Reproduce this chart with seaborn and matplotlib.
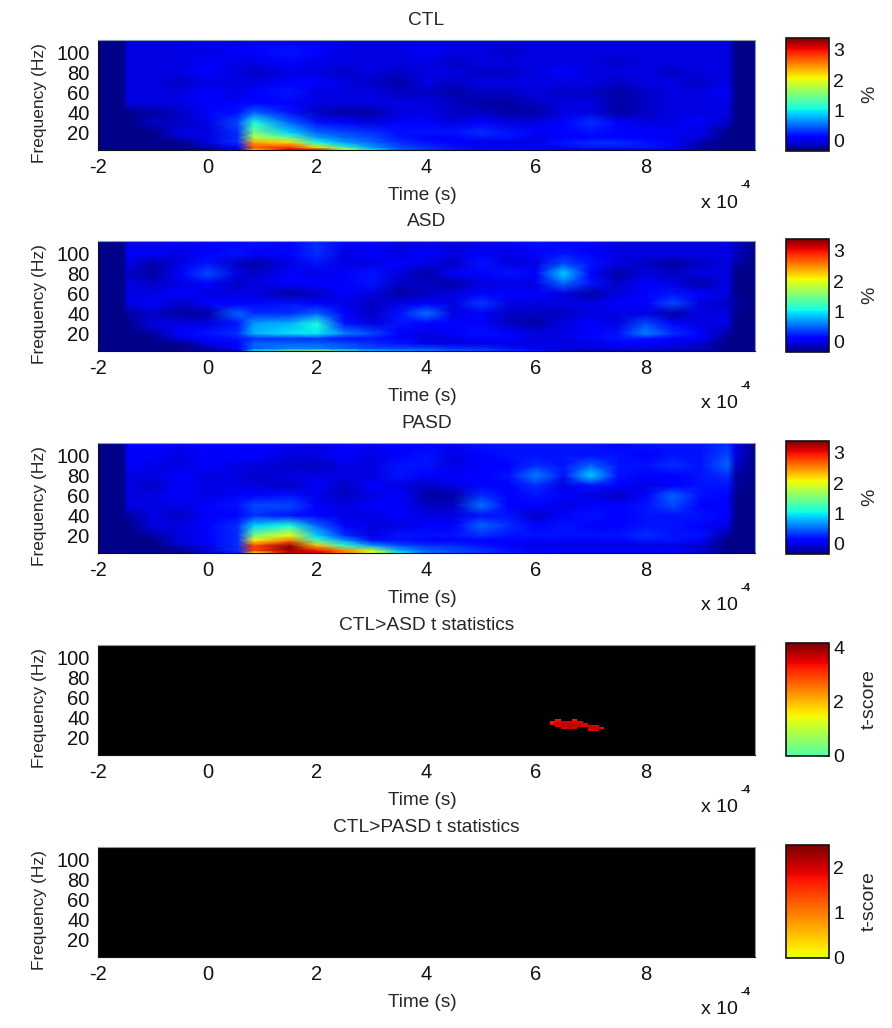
import numpy as np
import matplotlib
matplotlib.use('Agg')
from matplotlib import pyplot as plt
from matplotlib.colors import LinearSegmentedColormap
import seaborn as sns

# grid of the three power panels, finer where the picture has sharp edges
times = [-2, -1.55, -1.45, -1, -0.5, 0, 0.55, 0.85, 1.5, 2, 2.5, 3, 3.5, 4, 4.5, 5, 5.5, 6, 6.5, 7, 7.5, 8, 8.5, 9, 9.5, 9.65, 10]
freqs = [2.5, 5, 10, 15, 20, 30, 40, 50, 60, 70, 80, 90, 100, 112.5]

time_ticks = [-2, 0, 2, 4, 6, 8]
freq_ticks = [20, 40, 60, 80, 100]

# rows go from low to high frequency
ctl = [
    [-.3, -.3, -.3, -.3, -.3, -.2, -.1, 2.3, 3.1, 3.3, 2.1, 1.0, .5, .3, .2, .1, .1, .1, .0, .0, .0, .0, -.1, -.2, -.3, -.3, -.3],
    [-.3, -.3, -.3, -.3, -.3, -.2, .1, 2.7, 2.9, 2.2, 1.2, .7, .4, .3, .2, .1, .1, .1, .1, .2, .2, .2, .1, -.2, -.3, -.3, -.3],
    [-.3, -.3, -.3, -.3, -.3, .0, .3, 2.4, 2.2, 1.1, .7, .5, .3, .2, .1, .0, .0, .0, .2, .3, .3, .2, .1, -.2, -.3, -.3, -.3],
    [-.3, -.3, -.3, -.3, -.1, .0, .3, 1.8, 1.4, .7, .5, .4, .2, .1, .1, .2, .2, .0, .1, .1, .1, .1, .0, .0, -.3, -.3, -.3],
    [-.3, -.3, -.3, -.3, .0, .0, .3, 1.5, .9, .5, .4, .3, .2, .2, .2, .3, .2, .1, .1, .2, .1, .1, .1, .0, -.3, -.3, -.3],
    [-.3, -.3, -.3, -.1, -.1, .0, .4, 1.1, .5, .2, .1, .0, .1, .1, .0, .1, .0, .0, .1, .3, .1, .0, .0, .1, -.1, -.3, -.3],
    [-.3, -.3, -.3, -.2, -.1, .1, .2, .5, .2, -.1, -.2, -.2, .0, .0, -.1, -.1, -.2, -.2, .0, .0, -.2, -.1, .0, .0, .0, -.3, -.3],
    [-.3, -.3, .0, .0, .0, .1, .1, .1, .1, .0, .0, .0, .0, .0, -.1, -.2, -.2, -.1, .0, .0, -.2, -.1, .0, .0, .0, -.3, -.3],
    [-.3, -.3, .0, .0, .0, .1, .0, .1, .2, .0, .0, .0, -.1, -.1, -.2, -.1, -.1, .0, -.1, -.1, -.2, -.1, .0, .0, .1, -.3, -.3],
    [-.3, -.3, .0, .0, -.1, .0, .0, .0, .1, .1, .0, -.1, -.2, .0, -.1, .0, .0, .0, .0, .0, -.1, .0, .0, -.1, .0, -.3, -.3],
    [-.3, -.3, .0, .0, .0, .1, .0, -.1, .0, .0, -.1, .0, -.1, .0, .0, -.1, -.1, .0, .1, .0, .0, .0, -.1, .0, .0, -.3, -.3],
    [-.3, -.3, .0, .0, .0, .1, .0, .0, .1, .0, .0, .0, .0, .0, -.1, .0, .0, .0, .0, .0, -.1, .0, .0, .0, .0, -.3, -.3],
    [-.3, -.3, .0, .0, .0, .0, .1, .1, .2, .1, .0, .0, .0, .1, .0, .0, -.1, .0, .0, .0, .0, .0, .0, .0, .0, -.3, -.3],
    [-.3, -.3, .0, .0, .0, .1, .0, .1, .1, .1, .0, .0, .0, .0, .0, .0, .0, .0, .0, .0, .0, .0, .0, .0, .0, -.3, -.3],
]
asd = [
    [-.3, -.3, -.3, -.3, -.3, -.2, -.2, 1.0, 1.5, 1.8, 1.3, .9, .7, .6, .5, .4, .3, .2, -.1, -.2, -.2, -.2, -.2, -.2, -.3, -.3, -.3],
    [-.3, -.3, -.3, -.3, -.3, -.2, .1, .5, .6, .6, .5, .4, .4, .4, .3, .3, .2, .1, .0, .0, .0, .0, .0, -.1, -.3, -.3, -.3],
    [-.3, -.3, -.3, -.3, -.3, .0, .1, .5, .5, .5, .4, .3, .2, .0, .0, .0, .0, .0, .0, .0, .1, .1, .0, -.1, -.3, -.3, -.3],
    [-.3, -.3, -.3, -.3, .0, .1, .2, .3, .3, .3, .2, .2, .1, .0, .0, .1, .1, .0, .0, .1, .2, .2, .1, .1, -.3, -.3, -.3],
    [-.3, -.3, -.3, -.2, .1, .2, .3, .8, .95, 1.0, .6, .4, .1, .0, .1, .2, .1, .0, .0, .1, .2, .6, .3, .1, -.2, -.3, -.3],
    [-.3, -.3, -.3, .0, .0, .0, .2, .7, .8, 1.1, .2, .0, .2, .1, .1, .1, -.1, -.2, .0, .1, .0, .4, .1, .0, .0, -.3, -.3],
    [-.3, -.3, -.2, -.1, -.2, -.2, .5, .3, .3, .5, .1, -.1, .2, .55, .0, .1, -.1, -.1, -.1, .0, .0, .0, -.2, .0, .0, -.3, -.3],
    [-.3, -.3, .0, .1, -.1, .1, .1, .1, .2, .1, .0, -.1, .0, .1, .0, .35, .0, .0, .0, .0, .1, .1, .4, .0, -.1, -.2, -.3],
    [-.3, -.3, .0, .0, .1, .0, .0, .0, -.2, -.1, .1, .0, -.2, -.1, .0, .1, .1, .1, .0, -.2, .0, .1, .2, .1, .0, -.3, -.3],
    [-.3, -.3, .0, -.1, .0, .1, -.1, .0, .1, .1, .1, .2, -.1, -.1, -.2, .0, .0, .0, .5, .2, -.1, .1, .0, -.2, .0, -.3, -.3],
    [-.3, -.3, -.1, -.2, .1, .4, .0, -.1, .1, .0, .1, .2, .0, -.2, .1, .1, .2, .1, .9, .1, -.2, .0, -.1, .0, .0, -.3, -.3],
    [-.3, -.3, .0, -.2, .0, .2, -.1, -.2, .0, .2, .0, .0, .1, .0, -.1, .2, .0, .0, .4, .2, .0, -.1, -.2, -.1, .0, -.2, -.3],
    [-.3, -.3, .1, .1, .0, .1, .2, .1, .1, .3, .0, .1, .0, .1, .0, .1, .0, .1, .2, .1, .0, .0, .0, .0, .0, -.1, -.3],
    [-.3, -.3, .0, .0, .1, .1, .1, .2, .1, .3, .1, .1, .0, .0, .0, .0, .1, .2, .1, .1, .0, .0, .0, .0, .0, -.1, -.3],
]
pasd = [
    [-.3, -.3, -.3, -.3, -.3, -.1, .2, 2.0, 3.1, 3.1, 2.6, 2.0, 1.0, .5, .4, .3, .2, .1, .0, .0, .0, .0, .0, -.1, -.3, -.3, -.3],
    [-.3, -.3, -.3, -.3, -.3, .0, .3, 2.8, 3.3, 3.0, 2.5, 1.9, .8, .5, .4, .3, .2, .1, .1, .1, .1, .1, .1, .0, -.3, -.3, -.3],
    [-.3, -.3, -.3, -.3, -.1, .0, .3, 2.8, 3.3, 2.3, 1.2, .7, .4, .3, .3, .2, .1, .0, .0, .0, .0, .0, .0, -.1, -.3, -.3, -.3],
    [-.3, -.3, -.3, -.3, .0, .1, .3, 2.1, 2.6, 1.3, .7, .2, .2, .1, .1, .1, .1, .1, .1, .1, .1, .2, .2, .1, -.3, -.3, -.3],
    [-.3, -.3, -.3, -.2, .0, .1, .3, 1.5, 2.0, .9, .3, .0, .2, .2, .2, .3, .2, .2, .2, .2, .2, .3, .2, .2, -.2, -.3, -.3],
    [-.3, -.3, -.3, .0, .0, .1, .3, .9, 1.1, .5, .1, .0, .0, .1, .1, .5, .3, .1, .2, .1, .1, .2, .2, .1, .0, -.3, -.3],
    [-.3, -.3, -.2, .0, -.1, .1, .1, .3, .2, .1, .0, .0, .1, .0, .0, .2, .2, -.1, .1, .2, .1, .2, .2, .2, .1, -.3, -.3],
    [-.3, -.3, .0, .0, .0, .1, .2, .4, .4, .1, .0, .1, .1, -.1, -.1, .55, .1, .1, .0, .1, .1, .2, .4, .1, .1, -.3, -.3],
    [-.3, -.3, .0, .0, .1, .0, .1, .1, .2, .0, -.1, .0, .1, -.2, -.2, .3, .1, .2, .1, .0, -.1, .1, .5, .2, .1, -.3, -.3],
    [-.3, -.3, .0, -.1, .1, .0, .0, .0, -.1, .1, -.1, .1, .0, -.1, .0, .1, .1, .3, .0, .2, .1, .0, .1, .2, .2, -.2, -.3],
    [-.3, -.3, .0, .0, .1, .0, .0, -.1, .0, .0, .0, .0, .2, .1, .1, .1, .2, .6, .2, .9, .2, .1, .1, .2, .3, -.2, -.3],
    [-.3, -.3, .1, .0, .0, .1, .0, .0, -.1, -.1, .0, .0, .2, .2, .0, .1, .1, .3, .2, .5, .2, .2, .3, .2, .5, -.1, -.3],
    [-.3, -.3, .1, .1, .0, .1, .1, .1, .0, .0, .1, .0, .1, .2, .0, .1, .2, .2, .2, .2, .2, .1, .2, .2, .4, .0, -.3],
    [-.3, -.3, .1, .1, .1, .1, .1, .1, .1, .0, .1, .1, .1, .1, .1, .2, .2, .2, .2, .2, .1, .2, .2, .2, .3, .0, -.3],
]

# t statistic panels are thresholded, only one small cluster survives
t_time_edges = [-2, 6.25, 6.35, 6.45, 6.55, 6.65, 6.75, 6.85, 6.95, 7.05, 7.15, 7.25, 10]
t_freq_edges = [2.5, 27, 29, 31, 33, 35, 37, 39, 112.5]
ctl_asd_t = [
    [0, 0, 0, 0, 0, 0, 0, 0, 0, 0, 0, 0],
    [0, 0, 0, 0, 0, 0, 0, 0, 3.5, 3.6, 0, 0],
    [0, 0, 0, 3.5, 3.6, 3.5, 0, 0, 3.6, 3.7, 3.4, 0],
    [0, 0, 3.5, 3.7, 3.7, 3.7, 3.6, 3.5, 3.6, 3.5, 0, 0],
    [0, 3.4, 3.7, 3.7, 3.7, 3.7, 3.6, 3.5, 0, 0, 0, 0],
    [0, 3.3, 3.5, 3.6, 3.6, 3.5, 3.5, 0, 0, 0, 0, 0],
    [0, 0, 3.3, 0, 0, 3.3, 0, 0, 0, 0, 0, 0],
    [0, 0, 0, 0, 0, 0, 0, 0, 0, 0, 0, 0],
]
ctl_pasd_t = [
    [0, 0],
    [0, 0],
]
ctl_pasd_time_edges = [-2, 4, 10]
ctl_pasd_freq_edges = [2.5, 50, 112.5]

titles = ['CTL', 'ASD', 'PASD', 'CTL>ASD t statistics', 'CTL>PASD t statistics']
power_ticks = [0, 1, 2, 3]

sns.set_style('white')
plt.rcParams['font.family'] = ['Liberation Sans', 'DejaVu Sans']

W, H = 892, 1028
panel_tops = [40, 241, 443, 645, 847]
panel_h = 110
left, width = 98, 657

jet = matplotlib.colormaps['jet']
jet_green = LinearSegmentedColormap.from_list('jet_green', jet(np.linspace(0.45, 1, 128)))
jet_yellow = LinearSegmentedColormap.from_list('jet_yellow', jet(np.linspace(0.63, 1, 128)))

fig = plt.figure(figsize=(W / 100, H / 100), dpi=100)


def index_scale(edges):
    idx = np.arange(len(edges))
    return (lambda v: np.interp(v, idx, edges)), (lambda v: np.interp(v, edges, idx))


def panel(i, data, xs, ys, cmap, vmin, vmax, ticks, label, gouraud):
    top = panel_tops[i]
    ax = fig.add_axes([left / W, 1 - (top + panel_h) / H, width / W, panel_h / H])
    cax = fig.add_axes([786 / W, 1 - (top + panel_h + 1) / H, 43 / W, (panel_h + 3) / H])
    data = np.array(data, dtype=float)
    kws = {}
    mask = None
    if gouraud:
        kws['shading'] = 'gouraud'
    else:
        mask = data == 0
    ax.set_facecolor('black')
    sns.heatmap(data, ax=ax, cbar_ax=cax, cmap=cmap, vmin=vmin, vmax=vmax, mask=mask,
                xticklabels=False, yticklabels=False, cbar_kws={'ticks': ticks}, **kws)
    # index space -> seconds / Hz, so the uneven grid lands in the right place
    fx, ix = index_scale(xs)
    fy, iy = index_scale(ys)
    ax.set_xscale('function', functions=(fx, ix))
    ax.set_yscale('function', functions=(fy, iy))
    ax.set_xlim(0, len(xs) - 1)
    ax.set_ylim(0, len(ys) - 1)
    ax.set_xticks(ix(np.array(time_ticks, dtype=float)), labels=[str(t) for t in time_ticks])
    ax.set_yticks(iy(np.array(freq_ticks, dtype=float)), labels=[str(f) for f in freq_ticks])
    ax.minorticks_off()
    ax.tick_params(axis='both', which='major', direction='in', length=3, width=0.8,
                   color='black', labelsize=14.5, labelcolor='#111111', bottom=True, left=True, pad=6)
    ax.set_xlabel('Time (s)', fontsize=13.7)
    ax.xaxis.set_label_coords((422 - left) / width, -37 / panel_h)
    ax.set_ylabel('Frequency (Hz)', fontsize=12.5)
    ax.yaxis.set_label_coords((47 - left) / width, 0.43)
    ax.set_title(titles[i], fontsize=13.8, pad=11)
    for side, sp in ax.spines.items():
        sp.set_visible(True)
        sp.set_linewidth(0.8)
        sp.set_color('#111111' if side in ('left', 'bottom') else '#8a9aa8')
    ax.text(1 - 54 / width, -53 / panel_h, 'x 10', transform=ax.transAxes, fontsize=14,
            ha='left', va='center', color='#111111')
    ax.text(1 - 14 / width, -35 / panel_h, '-4', transform=ax.transAxes, fontsize=8,
            ha='left', va='center', color='#111111', fontweight='bold')

    cb = ax.collections[0].colorbar
    cb.outline.set_visible(True)
    cb.outline.set_linewidth(1.2)
    cb.outline.set_edgecolor('#111111')
    cb.ax.tick_params(direction='in', length=1.5, width=0.8, color='black',
                      labelsize=14, labelcolor='#111111', pad=3, right=True)
    cb.set_label(label, fontsize=14)
    cb.ax.yaxis.set_label_coords((861 - 786) / 43, 0.5)


panel(0, ctl, times, freqs, 'jet', -0.33, 3.38, power_ticks, '%', True)
panel(1, asd, times, freqs, 'jet', -0.33, 3.38, power_ticks, '%', True)
panel(2, pasd, times, freqs, 'jet', -0.33, 3.38, power_ticks, '%', True)
panel(3, ctl_asd_t, t_time_edges, t_freq_edges, jet_green, 0, 4.15, [0, 2, 4], 't-score', False)
panel(4, ctl_pasd_t, ctl_pasd_time_edges, ctl_pasd_freq_edges, jet_yellow, 0, 2.5, [0, 1, 2], 't-score', False)

fig.savefig('out.png', dpi=100)
